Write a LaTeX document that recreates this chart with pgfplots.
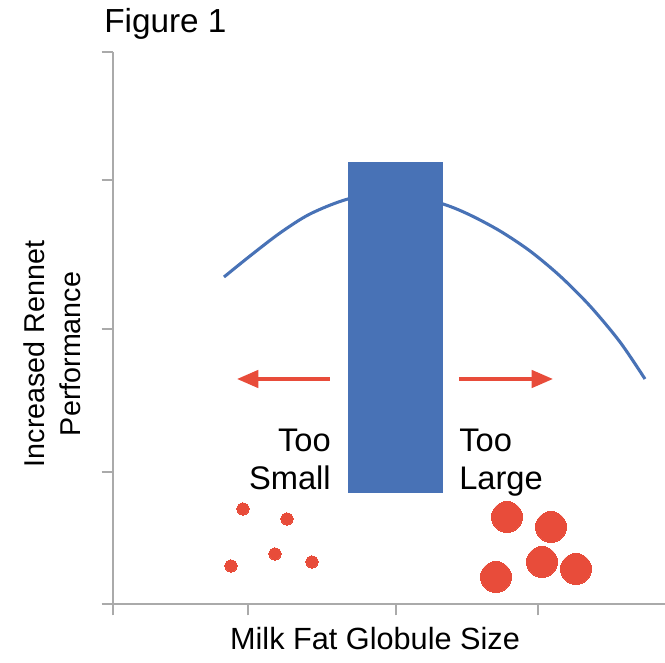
\documentclass[border=0pt]{standalone}
\usepackage{fontspec}
\setmainfont{Liberation Sans}
\usepackage{pgfplots}
\pgfplotsset{compat=1.18}
\usetikzlibrary{arrows.meta}
\definecolor{barblue}{RGB}{72,114,182}
\definecolor{dotred}{RGB}{232,76,58}
\definecolor{axgray}{RGB}{170,170,170}
\begin{document}
\begin{tikzpicture}
\begin{axis}[
  x=0.75pt, y=0.75pt,
  xmin=0, xmax=552, ymin=0, ymax=552,
  axis x line=bottom, axis y line=left,
  axis line style={-, axgray, line width=1.3pt},
  xtick={0,135,283,425}, ytick={0,132,275,424,552},
  xticklabels={}, yticklabels={},
  tick align=outside, major tick length=8.5pt,
  tick style={axgray, line width=1.3pt},
  clip=false,
]
% curve
\addplot[barblue, line width=2.3pt, smooth, tension=0.5] coordinates {
 (111,327) (137,348) (167,371) (197,390) (235,405) (282,413)
 (330,400) (357,389) (387,373) (417,353) (447,328) (477,298) (507,262) (532,225)};
% bar
\addplot[fill=barblue, draw=none] coordinates {(235,111) (330,111) (330,442) (235,442) (235,111)} -- cycle;
% arrows
\addplot[dotred, line width=2.7pt, -{Triangle[length=16pt,width=13pt]}] coordinates {(217,225) (124,225)};
\addplot[dotred, line width=2.7pt, -{Triangle[length=16pt,width=13pt]}] coordinates {(346,225) (440,225)};
% small globules
\addplot[dotred, only marks, mark=*, mark size=4.6pt, mark options={fill=dotred, draw=dotred, line width=0pt}] coordinates {
 (130,95) (174,85) (162,50) (118,38) (199,42)};
% large globules
\addplot[dotred, only marks, mark=*, mark size=11.5pt, mark options={fill=dotred, draw=dotred, line width=0pt}] coordinates {
 (394,87) (438,77) (429,42) (383,27) (463,35)};
% texts
\node[anchor=base east, inner sep=0pt, font=\fontsize{24.5}{28}\selectfont] at (axis cs:218,152) {Too};
\node[anchor=base east, inner sep=0pt, font=\fontsize{24.5}{28}\selectfont] at (axis cs:218,114) {Small};
\node[anchor=base west, inner sep=0pt, font=\fontsize{24.5}{28}\selectfont] at (axis cs:346,152) {Too};
\node[anchor=base west, inner sep=0pt, font=\fontsize{24.5}{28}\selectfont] at (axis cs:346,114) {Large};
\node[anchor=base west, inner sep=0pt, font=\fontsize{25}{28}\selectfont] at (axis cs:-9,571) {Figure 1};
\node[anchor=base, inner sep=0pt, font=\fontsize{23}{28}\selectfont] at (axis cs:262,-46) {Milk Fat Globule Size};
\node[rotate=90, align=center, inner sep=0pt, font=\fontsize{21.5}{27}\selectfont] at (axis cs:-61,250) {Increased Rennet\\Performance};
\coordinate (tl) at (axis cs:-113,604);
\coordinate (br) at (axis cs:552,-59);
\end{axis}
\pgfresetboundingbox
\path (tl) rectangle (br);
\end{tikzpicture}
\end{document}
